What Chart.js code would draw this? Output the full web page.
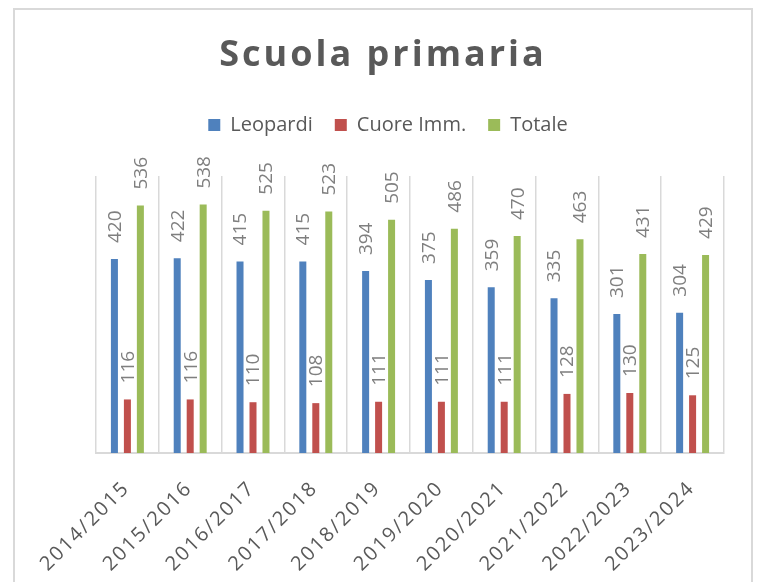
<!DOCTYPE html>
<html>
<head>
<meta charset="utf-8">
<script src="https://cdn.jsdelivr.net/npm/chart.js@4"></script>
<style>
  html, body { margin: 0; padding: 0; background: #ffffff; }
  #wrap { width: 758px; height: 582px; }
</style>
</head>
<body>
<div id="wrap"><canvas id="myChart" width="758" height="582"></canvas></div>
<script>
var years = ["2014/2015", "2015/2016", "2016/2017", "2017/2018", "2018/2019",
             "2019/2020", "2020/2021", "2021/2022", "2022/2023", "2023/2024"];
var leopardi = [420, 422, 415, 415, 394, 375, 359, 335, 301, 304];
var cuoreImm = [116, 116, 110, 108, 111, 111, 111, 128, 130, 125];
var totale = [536, 538, 525, 523, 505, 486, 470, 463, 431, 429];

var titleText = "Scuola primaria";
var fontName = "'Open Sans', sans-serif";

// frame around the whole chart + spaced title
const frameAndTitle = {
  id: "frameAndTitle",
  beforeDraw(chart) {
    const ctx = chart.ctx;
    ctx.save();
    ctx.fillStyle = "#ffffff";
    ctx.fillRect(0, 0, chart.width, chart.height);
    ctx.strokeStyle = "#d9d9d9";
    ctx.lineWidth = 2;
    ctx.strokeRect(14, 9, 738, 620);
    ctx.restore();
  },
  afterDraw(chart) {
    const ctx = chart.ctx;
    ctx.save();
    ctx.letterSpacing = "3px";
    ctx.font = "bold 36px " + fontName;
    ctx.fillStyle = "#595959";
    ctx.textAlign = "center";
    ctx.textBaseline = "middle";
    ctx.fillText(titleText, 383, 56);
    ctx.restore();
  }
};

// extra room under the legend
const legendGap = {
  id: "legendGap",
  beforeInit(chart) {
    const fit = chart.legend.fit;
    chart.legend.fit = function () {
      fit.call(this);
      this.height += 31;
    };
  }
};

// vertical value labels above each bar
const barLabels = {
  id: "barLabels",
  afterDatasetsDraw(chart) {
    const ctx = chart.ctx;
    ctx.save();
    ctx.font = "19px " + fontName;
    ctx.fillStyle = "#7f7f7f";
    ctx.textAlign = "left";
    ctx.textBaseline = "middle";
    chart.data.datasets.forEach((ds, i) => {
      chart.getDatasetMeta(i).data.forEach((bar, j) => {
        ctx.save();
        ctx.translate(bar.x + 1, bar.y - 16);
        ctx.rotate(-Math.PI / 2);
        ctx.fillText(ds.data[j], 0, 0);
        ctx.restore();
      });
    });
    ctx.restore();
  }
};

// slanted, letter-spaced category labels
const yearLabels = {
  id: "yearLabels",
  afterDraw(chart) {
    const ctx = chart.ctx;
    const xs = chart.scales.x;
    ctx.save();
    ctx.letterSpacing = "2px";
    ctx.font = "20px " + fontName;
    ctx.fillStyle = "#595959";
    ctx.textAlign = "right";
    ctx.textBaseline = "middle";
    years.forEach((lab, i) => {
      ctx.save();
      ctx.translate(xs.getPixelForTick(i) - 1, xs.top + 32);
      ctx.rotate(-Math.PI / 4);
      ctx.fillText(lab, 0, 0);
      ctx.restore();
    });
    ctx.restore();
  }
};

new Chart("myChart", {
  type: "bar",
  data: {
    labels: years,
    datasets: [
      { label: "Leopardi", data: leopardi, backgroundColor: "#4f81bd" },
      { label: "Cuore Imm.", data: cuoreImm, backgroundColor: "#c0504d" },
      { label: "Totale", data: totale, backgroundColor: "#9bbb59" }
    ]
  },
  options: {
    responsive: false,
    animation: false,
    layout: { padding: { top: 93, left: 52, right: 34, bottom: 0 } },
    datasets: {
      bar: { categoryPercentage: 0.62, barPercentage: 0.54 }
    },
    plugins: {
      legend: {
        position: "top",
        labels: {
          boxWidth: 12,
          boxHeight: 12,
          padding: 22,
          color: "#595959",
          font: { family: fontName, size: 20 }
        }
      },
      tooltip: { enabled: false }
    },
    scales: {
      x: {
        grid: { color: "#d9d9d9", lineWidth: 1.5, drawTicks: false },
        border: { color: "#d9d9d9", width: 2 },
        ticks: { display: false },
        afterFit(scale) { scale.height = 129; }
      },
      y: {
        min: 0,
        max: 600,
        ticks: { display: false },
        grid: { display: false },
        border: { display: false },
        afterFit(scale) { scale.width = 44; }
      }
    }
  },
  plugins: [frameAndTitle, legendGap, barLabels, yearLabels]
});
</script>
</body>
</html>
